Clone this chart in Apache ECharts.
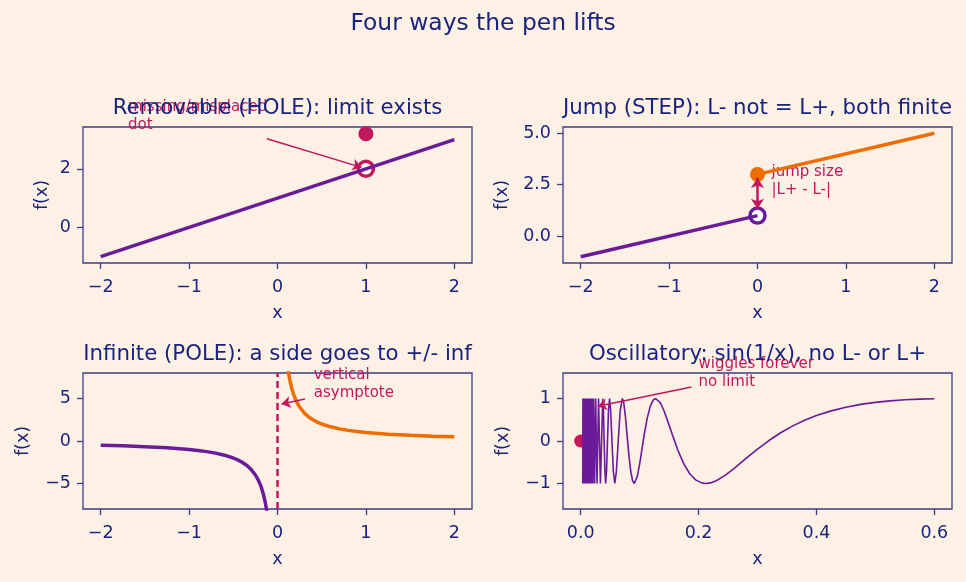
<!DOCTYPE html>
<html>
<head>
<meta charset="utf-8">
<script src="https://cdn.jsdelivr.net/npm/echarts@6/dist/echarts.min.js"></script>
<style>
  html, body { margin: 0; padding: 0; background: #fdf1e6; }
  #chart { width: 966px; height: 582px; }
</style>
</head>
<body>
<div id="chart"></div>
<script>
// --- данные: устранимый разрыв (дырка) ---
const holeLineX = [-2, 2];
const holeLineY = [-1, 3];
const holePoint = [1, 2];
const misplacedDot = [1, 3.2];

// --- скачок ---
const jumpLeftX = [-2, 0];
const jumpLeftY = [-1, 1];
const jumpRightX = [0, 2];
const jumpRightY = [3, 5];
const jumpHole = [0, 1];
const jumpDot = [0, 3];

// --- полюс 1/x ---
const poleLeftX = [-2, -1.75, -1.5, -1.25, -1, -0.9, -0.8, -0.7, -0.6, -0.5, -0.45, -0.4, -0.35, -0.3, -0.25, -0.22, -0.2, -0.18, -0.16, -0.14, -0.125, -0.11];
const poleLeftY = [-0.5, -0.571, -0.667, -0.8, -1, -1.111, -1.25, -1.429, -1.667, -2, -2.222, -2.5, -2.857, -3.333, -4, -4.545, -5, -5.556, -6.25, -7.143, -8, -9.091];
const poleRightX = [0.11, 0.125, 0.14, 0.16, 0.18, 0.2, 0.22, 0.25, 0.3, 0.35, 0.4, 0.45, 0.5, 0.6, 0.7, 0.8, 0.9, 1, 1.25, 1.5, 1.75, 2];
const poleRightY = [9.091, 8, 7.143, 6.25, 5.556, 5, 4.545, 4, 3.333, 2.857, 2.5, 2.222, 2, 1.667, 1.429, 1.25, 1.111, 1, 0.8, 0.667, 0.571, 0.5];

// --- осцилляция sin(1/x), значения ---
const oscX = [
  0.0035, 0.0038, 0.0041, 0.0044, 0.0047, 0.0050, 0.0053, 0.0056, 0.0059, 0.0062, 0.0065, 0.0068,
  0.0071, 0.0074, 0.0077, 0.0080, 0.0083, 0.0086, 0.0089, 0.0092, 0.0095, 0.0098, 0.0101,
  0.01044, 0.01079, 0.01117, 0.01158, 0.01201, 0.01248, 0.01299, 0.01354, 0.01415, 0.01481, 0.01553,
  0.01632, 0.01721, 0.01819, 0.01929, 0.02054, 0.02195, 0.02358, 0.02546, 0.02768, 0.0303, 0.0335,
  0.03745, 0.03858, 0.03979, 0.04107, 0.0424, 0.0439, 0.04547, 0.04716, 0.049, 0.05093, 0.05305,
  0.05536, 0.0579, 0.0606, 0.0637, 0.067, 0.0707,
  0.073, 0.076, 0.079, 0.082, 0.085, 0.088, 0.0909, 0.093, 0.096, 0.1, 0.104, 0.108, 0.113, 0.118,
  0.123, 0.127, 0.13, 0.135, 0.141, 0.148, 0.155, 0.165, 0.175, 0.185, 0.195, 0.205, 0.212, 0.22,
  0.23, 0.245, 0.26, 0.28, 0.3, 0.32, 0.34, 0.36, 0.38, 0.4, 0.425, 0.45, 0.475, 0.5, 0.525, 0.55,
  0.575, 0.6
];
const oscY = [
  -1, 1, -1, 1, -1, 1, -1, 1, -1, 1, -1, 1,
  -1, 1, -1, 1, -1, 1, -1, 1, -1, 1, -1,
  1, -1, 1, -1, 1, -1, 1, -1, 1, -1, 1,
  -1, 1, -1, 1, -1, 1, -1, 1, -1, 1, -1,
  1, 0.707, 0, -0.707, -1, -0.707, 0, 0.707, 1, 0.707, 0,
  -0.707, -1, -0.707, 0, 0.707, 1,
  0.906, 0.558, 0.092, -0.363, -0.718, -0.933, -1, -0.971, -0.837, -0.544, -0.19, 0.165, 0.543, 0.813,
  0.962, 1, 0.987, 0.902, 0.724, 0.456, 0.168, -0.22, -0.539, -0.77, -0.915, -0.986, -1, -0.986,
  -0.934, -0.808, -0.648, -0.417, -0.191, 0.017, 0.199, 0.356, 0.488, 0.598, 0.709, 0.795, 0.861, 0.909, 0.945, 0.97,
  0.986, 0.995
];
const oscDot = [0, 0];

// --- деления осей ---
const ticksX = [-2, -1, 0, 1, 2];
const ticksOscX = [0, 0.2, 0.4, 0.6];
const ticksHoleY = [0, 2];
const ticksJumpY = [0, 2.5, 5];
const ticksPoleY = [-5, 0, 5];
const ticksOscY = [-1, 0, 1];

const BG = '#fdf1e6';
const TEXT = '#1a237e';
const SPINE = '#3c3c8c';
const PURPLE = '#6a1b9a';
const ORANGE = '#ef6c00';
const CRIMSON = '#c2185b';
const FONT = 'DejaVu Sans';

const zip = (xs, ys) => xs.map((x, i) => [x, ys[i]]);
const minus = (s, v) => (v < 0 ? '\u2212' : '') + s;
const fmtInt = v => minus(String(Math.abs(v)), v);
const fmtOne = v => minus(Math.abs(v).toFixed(1), v);

const tickStyle = { show: true, length: 6, lineStyle: { color: SPINE, width: 1.3 } };
const labelStyle = { color: TEXT, fontSize: 17.5, fontFamily: FONT };

const makeX = (i, min, max, ticks, fmt) => ({
  type: 'value', gridIndex: i, min, max,
  name: 'x', nameLocation: 'middle', nameGap: 41,
  nameTextStyle: labelStyle,
  axisLine: { show: false, onZero: false },
  axisTick: { ...tickStyle, customValues: ticks },
  axisLabel: { ...labelStyle, margin: 15, customValues: ticks, formatter: fmt },
  splitLine: { show: false }
});
const makeY = (i, min, max, ticks, fmt, gap) => ({
  type: 'value', gridIndex: i, min, max,
  name: 'f(x)', nameLocation: 'middle', nameGap: gap,
  nameTextStyle: labelStyle,
  axisLine: { show: false, onZero: false },
  axisTick: { ...tickStyle, customValues: ticks },
  axisLabel: { ...labelStyle, margin: 12, customValues: ticks, formatter: fmt },
  splitLine: { show: false }
});

const gridBox = (left, top) => ({
  left, top, width: 389, height: 136, show: true,
  borderColor: SPINE, borderWidth: 1.3, backgroundColor: 'transparent',
  containLabel: false, outerBoundsMode: 'none'
});

const lineSeries = (i, data, color, width) => ({
  type: 'line', xAxisIndex: i, yAxisIndex: i, data, showSymbol: false, symbol: 'none',
  lineStyle: { color, width }, silent: true
});
const dotSeries = (i, point, fill, edge, size, edgeWidth) => ({
  type: 'scatter', xAxisIndex: i, yAxisIndex: i, data: [point], symbolSize: size, silent: true,
  itemStyle: { color: fill, borderColor: edge, borderWidth: edgeWidth, opacity: 1 }
});
// подпись со стрелкой
const noteSeries = (i, pos, text, tail, head) => ({
  type: 'scatter', xAxisIndex: i, yAxisIndex: i, data: [pos], symbolSize: 0, clip: false, silent: true,
  itemStyle: { opacity: 1 },
  label: {
    show: true, position: 'right', distance: 0, formatter: text,
    color: CRIMSON, fontSize: 15, lineHeight: 18, fontFamily: FONT
  },
  markLine: tail ? {
    silent: true, symbol: ['none', 'arrow'], symbolSize: 9, animation: false,
    lineStyle: { color: CRIMSON, width: 1.5, type: 'solid', opacity: 1 }, label: { show: false },
    data: [[{ coord: tail }, { coord: head }]]
  } : undefined
});

const titleAt = (text, x, y, size) => ({
  text, left: x, top: y, textAlign: 'center', textVerticalAlign: 'middle', padding: 0,
  textStyle: { color: TEXT, fontSize: size, fontWeight: 'normal', fontFamily: FONT }
});

const chart = echarts.init(document.getElementById('chart'));

const option = {
  backgroundColor: BG,
  animation: false,
  title: [
    titleAt('Four ways the pen lifts', 483, 24, 23.4),
    titleAt('Removable (HOLE): limit exists', 277.5, 108, 21.3),
    titleAt('Jump (STEP): L- not = L+, both finite', 757.5, 108, 21.3),
    titleAt('Infinite (POLE): a side goes to +/- inf', 277.5, 354, 21.3),
    titleAt('Oscillatory: sin(1/x), no L- or L+', 757.5, 354, 21.3)
  ],
  grid: [gridBox(83, 127), gridBox(563, 127), gridBox(83, 373), gridBox(563, 373)],
  xAxis: [
    makeX(0, -2.2, 2.2, ticksX, fmtInt),
    makeX(1, -2.2, 2.2, ticksX, fmtInt),
    makeX(2, -2.2, 2.2, ticksX, fmtInt),
    makeX(3, -0.03, 0.63, ticksOscX, fmtOne)
  ],
  yAxis: [
    makeY(0, -1.22, 3.43, ticksHoleY, fmtInt, 32),
    makeY(1, -1.3, 5.3, ticksJumpY, fmtOne, 52),
    makeY(2, -8, 8, ticksPoleY, fmtInt, 51),
    makeY(3, -1.6, 1.6, ticksOscY, fmtInt, 51)
  ],
  series: [
    // дырка
    lineSeries(0, zip(holeLineX, holeLineY), PURPLE, 3.5),
    dotSeries(0, holePoint, '#ffffff', CRIMSON, 15, 3.5),
    dotSeries(0, misplacedDot, CRIMSON, CRIMSON, 15, 0),
    noteSeries(0, [-1.69, 3.81], 'missing/misplaced\ndot', [-0.12, 3.03], [0.95, 2.05]),

    // скачок
    lineSeries(1, zip(jumpLeftX, jumpLeftY), PURPLE, 3.5),
    lineSeries(1, zip(jumpRightX, jumpRightY), ORANGE, 3.5),
    dotSeries(1, jumpHole, '#ffffff', PURPLE, 15, 3.5),
    dotSeries(1, jumpDot, ORANGE, ORANGE, 15, 0),
    {
      ...noteSeries(1, [0.158, 2.65], 'jump size\n|L+ - L-|'),
      markLine: {
        silent: true, symbol: ['arrow', 'arrow'], symbolSize: 10, animation: false,
        lineStyle: { color: CRIMSON, width: 2.5, type: 'solid', opacity: 1 }, label: { show: false },
        data: [[{ coord: [0, 1.33] }, { coord: [0, 2.83] }]]
      }
    },

    // полюс
    {
      ...lineSeries(2, zip(poleLeftX, poleLeftY), PURPLE, 3.5),
      markLine: {
        silent: true, symbol: 'none', animation: false, label: { show: false },
        lineStyle: { color: CRIMSON, width: 2.5, type: [7, 4], opacity: 1 },
        data: [{ xAxis: 0 }]
      }
    },
    lineSeries(2, zip(poleRightX, poleRightY), ORANGE, 3.5),
    noteSeries(2, [0.41, 6.7], 'vertical\nasymptote', [0.31, 4.94], [0.045, 4.35]),

    // осцилляция
    lineSeries(3, zip(oscX, oscY), PURPLE, 1.6),
    dotSeries(3, oscDot, CRIMSON, CRIMSON, 13, 0),
    noteSeries(3, [0.2, 1.59], 'wiggles forever\nno limit', [0.188, 1.27], [0.029, 0.82])
  ]
};

chart.setOption(option);
</script>
</body>
</html>
